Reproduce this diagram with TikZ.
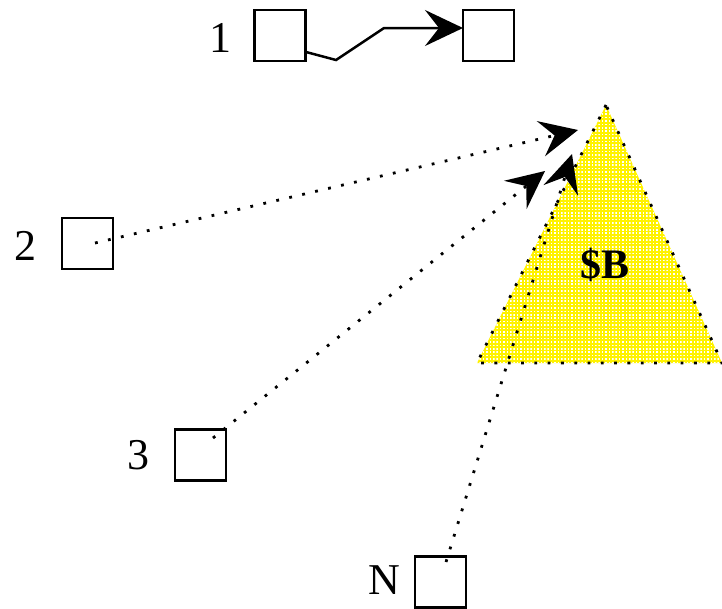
\documentclass[tikz,border=0pt]{standalone}
\usepackage{fontspec}
\setmainfont{Liberation Serif}
\usetikzlibrary{arrows.meta,patterns}
\pgfdeclarepatternformonly{whitegrid}{\pgfqpoint{0pt}{0pt}}{\pgfqpoint{1.6pt}{1.6pt}}{\pgfqpoint{3.4pt}{3.4pt}}{%
  \pgfpathrectangle{\pgfqpoint{0pt}{0pt}}{\pgfqpoint{1.6pt}{1.6pt}}\pgfusepath{fill}}
\begin{document}
\begin{tikzpicture}[x=1pt,y=-1pt,
  box/.style={draw,line width=2.5pt,minimum width=51pt,minimum height=51pt,inner sep=0pt,outer sep=0pt},
  lbl/.style={font=\fontsize{44}{44}\selectfont,inner sep=0pt},
  tip/.style={-{Stealth[length=38pt,width=36pt,inset=14pt]}},
  dotline/.style={line width=2.8pt,dash pattern=on 2.8pt off 10.5pt}]
\useasboundingbox (0,0) rectangle (722,608);
% triangle
\coordinate (ta) at (606,105);
\coordinate (tl) at (477,363);
\coordinate (tr) at (722,363);
\fill[yellow] (ta) -- (tl) -- (tr) -- cycle;
\fill[pattern=whitegrid,pattern color=white] (ta) -- (tl) -- (tr) -- cycle;
\draw[dotline] (ta) -- (tl) -- (tr) -- cycle;
\node[font=\bfseries\fontsize{42}{42}\selectfont,inner sep=0pt] (sb) at (605,265) {\$B};
% boxes
\node[box] (b1) at (280,35.5) {};
\node[box] (b1b) at (488.5,35.5) {};
\node[box] (b2) at (87.5,243.5) {};
\node[box] (b3) at (200.5,455) {};
\node[box] (bn) at (440.5,582) {};
\node[lbl,anchor=east] (l1) at (232,38) {1};
\node[lbl,anchor=east] (l2) at (37,246) {2};
\node[lbl,anchor=east] (l3) at (150,455) {3};
\node[lbl,anchor=east] (ln) at (400,580) {N};
% connector 1
\coordinate (z0) at (306,52);
\coordinate (z1) at (336,60);
\coordinate (z2) at (384,28);
\draw[line width=2.5pt,tip] (z0) -- (z1) -- (z2) -- (b1b.west |- z2);
% dotted connectors
\coordinate (s2) at (95,243);
\coordinate (e2) at (578,130);
\coordinate (s3) at (213,438);
\coordinate (e3) at (545,171);
\coordinate (sn) at (446,562);
\coordinate (en) at (572,154);
\draw[dotline,tip] (s2) -- (e2);
\draw[dotline,tip] (s3) -- (e3);
\draw[dotline,tip] (sn) -- (en);
\end{tikzpicture}
\end{document}
